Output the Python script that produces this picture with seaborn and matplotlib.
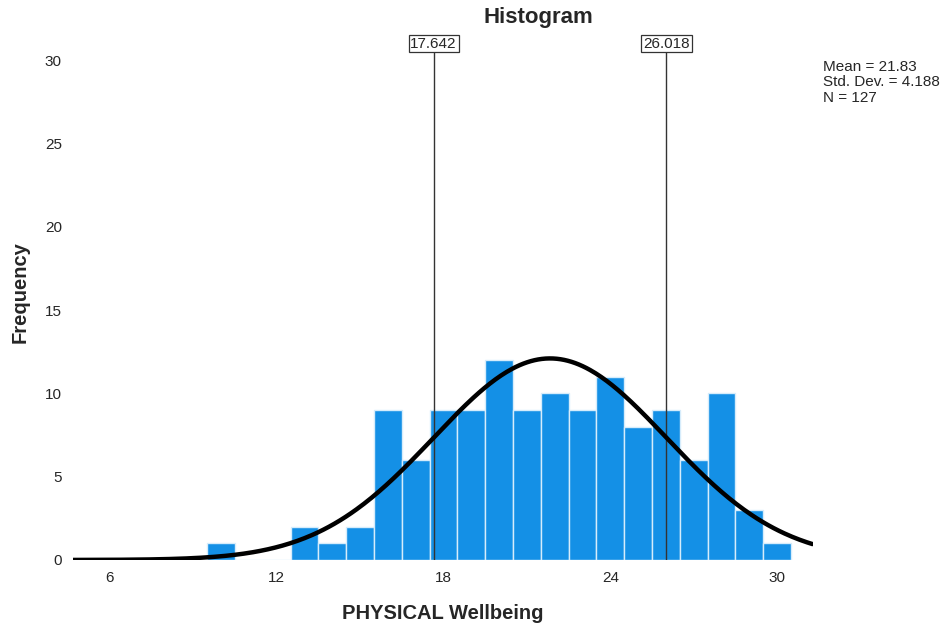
import numpy as np
import pandas as pd
import matplotlib
matplotlib.use("Agg")
import matplotlib.pyplot as plt
import seaborn as sns

# Data
bin_start = 9.5
bin_width = 1.0
counts = [1, 0, 0, 2, 1, 2, 9, 6, 9, 9, 12, 9, 10, 9, 11, 8, 9, 6, 10, 3, 1]
mean_val = 21.83
sd_val = 4.188
n_val = 127
ref_lines = [17.642, 26.018]
x_ticks = [6, 12, 18, 24, 30]
y_ticks = [0, 5, 10, 15, 20, 25, 30]

sns.set_theme(style="white")
plt.rcParams['font.family'] = ['Liberation Sans', 'DejaVu Sans']

edges = bin_start + bin_width * np.arange(len(counts) + 1)
centers = (edges[:-1] + edges[1:]) / 2
df = pd.DataFrame({"value": centers, "count": counts})

fig = plt.figure(figsize=(9.47, 6.27), dpi=100)
ax = fig.add_axes([0.0771, 0.1069, 0.7817, 0.837])

sns.histplot(data=df, x="value", weights="count", bins=[float(e) for e in edges], ax=ax,
             color="#1490e6", alpha=1.0, edgecolor="#d6ecfb", linewidth=1.0, zorder=2)

for v in ref_lines:
    ax.plot([v, v], [0, 30.95], color="#333333", lw=1.0, zorder=3)
    ax.text(v, 31.0, f"{v:.3f}", ha="center", va="center", fontsize=11,
            bbox=dict(boxstyle="square,pad=0.12", fc="white", ec="#333333", lw=0.9), zorder=4)

xs = np.linspace(4.67, 31.27, 400)
ys = n_val * bin_width * np.exp(-0.5 * ((xs - mean_val) / sd_val) ** 2) / (sd_val * np.sqrt(2 * np.pi))
sns.lineplot(x=xs, y=ys, ax=ax, color="black", lw=3.2, zorder=5)

ax.set_xlim(4.67, 31.3)
ax.set_ylim(0, 31.5)
ax.set_xticks(x_ticks)
ax.set_yticks(y_ticks)
ax.set_xticklabels([str(t) for t in x_ticks], fontsize=11)
ax.set_yticklabels([str(t) for t in y_ticks], fontsize=11)
ax.tick_params(axis="both", length=0, pad=8)
for s in ax.spines.values():
    s.set_visible(False)

ax.set_xlabel("PHYSICAL Wellbeing", fontsize=14.5, fontweight="bold")
ax.set_ylabel("Frequency", fontsize=14.5, fontweight="bold")
ax.xaxis.set_label_coords(0.5, -0.083)
ax.yaxis.set_label_coords(-0.058, 0.51)
fig.text(0.568, 0.972, "Histogram", ha="center", va="center", fontsize=16, fontweight="bold")
fig.text(0.869, 0.905, f"Mean = {mean_val}\nStd. Dev. = {sd_val}\nN = {n_val}",
         ha="left", va="top", fontsize=11, linespacing=1.15)

fig.savefig("out.png", dpi=100)
